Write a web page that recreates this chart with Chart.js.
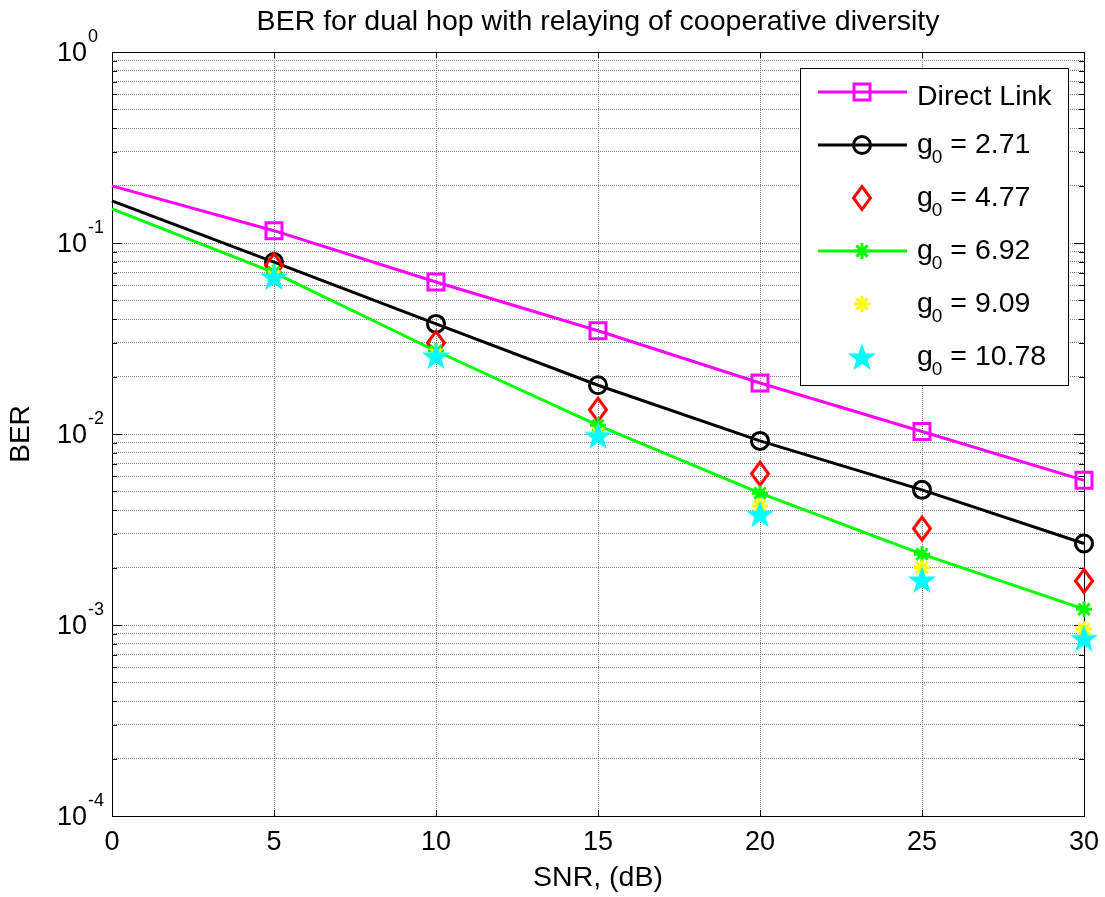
<!DOCTYPE html>
<html lang="en">
<head>
<meta charset="UTF-8">
<title>BER for dual hop with relaying of cooperative diversity</title>
<script src="https://cdn.jsdelivr.net/npm/chart.js@4.4.0/dist/chart.umd.min.js"></script>
<style>
    html, body { margin: 0; padding: 0; background: #fff; }
</style>
</head>
<body>
<canvas id="berChart" width="1105" height="897"></canvas>
<script>
// x axis: SNR in dB
const snrDb = [0, 5, 10, 15, 20, 25, 30];

// BER values
const berDirect = [0.199, 0.116, 0.0625, 0.0347, 0.0185, 0.0103, 0.00572];
const berG271  = [0.166, 0.0795, 0.0377, 0.0180, 0.0092, 0.0051, 0.00267];
const berG477  = [null, 0.0765, 0.0300, 0.0134, 0.0062, 0.0032, 0.0017];
const berG692  = [0.151, 0.0700, 0.0272, 0.0111, 0.0049, 0.00235, 0.00121];
const berG909  = [null, 0.0670, 0.0262, 0.0101, 0.0042, 0.0020, 0.00095];
const berG1078 = [null, 0.0664, 0.0256, 0.0098, 0.0038, 0.00172, 0.00085];

const gainLabels = ['2.71', '4.77', '6.92', '9.09', '10.78'];
const xTickStep = 5;
const yExponents = [0, -1, -2, -3, -4];

const FONT = "'Liberation Sans', Arial, Helvetica, sans-serif";
Chart.defaults.font.family = FONT;
Chart.defaults.color = '#000';

function toPoints(arr) {
    return snrDb.map((x, i) => ({ x: x, y: arr[i] }));
}
// markers only on the 5 dB steps, not at 0 dB
function markerRadius(r) {
    return snrDb.map(x => x === 0 ? 0 : r);
}

// MATLAB style diamond (taller than wide)
function makeDiamond(color) {
    const c = document.createElement('canvas');
    c.width = 26; c.height = 32;
    const g = c.getContext('2d');
    g.strokeStyle = color;
    g.lineWidth = 3;
    g.beginPath();
    g.moveTo(13, 4.5);
    g.lineTo(21.5, 16);
    g.lineTo(13, 27.5);
    g.lineTo(4.5, 16);
    g.closePath();
    g.stroke();
    return c;
}

// five pointed star (pentagram)
function makePentagram(color) {
    const c = document.createElement('canvas');
    c.width = 32; c.height = 32;
    const g = c.getContext('2d');
    const R = 12.5, r = 5;
    g.translate(16, 17);
    g.beginPath();
    for (let k = 0; k < 10; k++) {
        const rad = k % 2 ? r : R;
        const a = -Math.PI / 2 + k * Math.PI / 5;
        g.lineTo(Math.cos(a) * rad, Math.sin(a) * rad);
    }
    g.closePath();
    g.fillStyle = color;
    g.strokeStyle = color;
    g.lineWidth = 1.5;
    g.fill();
    g.stroke();
    return c;
}

const diamondRed = makeDiamond('#ff0000');
const starCyan = makePentagram('#00ffff');

// frame, inner tick marks and 10^n labels
const axesDecor = {
    id: 'axesDecor',
    beforeDatasetsDraw(chart) {
        const ctx = chart.ctx;
        const a = chart.chartArea;
        const xs = chart.scales.x, ys = chart.scales.y;
        ctx.save();
        ctx.strokeStyle = '#000';
        ctx.lineWidth = 1;
        ctx.beginPath();
        ys.ticks.forEach(t => {
            const py = Math.round(ys.getPixelForValue(t.value)) + 0.5;
            const major = Math.abs(Math.log10(t.value) - Math.round(Math.log10(t.value))) < 1e-6;
            const len = major ? 10 : 5;
            ctx.moveTo(a.left, py); ctx.lineTo(a.left + len, py);
            ctx.moveTo(a.right, py); ctx.lineTo(a.right - len, py);
        });
        xs.ticks.forEach(t => {
            const px = Math.round(xs.getPixelForValue(t.value)) + 0.5;
            ctx.moveTo(px, a.top); ctx.lineTo(px, a.top + 6);
            ctx.moveTo(px, a.bottom); ctx.lineTo(px, a.bottom - 6);
        });
        ctx.stroke();
        ctx.strokeRect(Math.round(a.left) + 0.5, Math.round(a.top) + 0.5,
            Math.round(a.right - a.left), Math.round(a.bottom - a.top));

        ctx.fillStyle = '#000';
        yExponents.forEach(e => {
            const py = ys.getPixelForValue(Math.pow(10, e));
            ctx.font = '27px ' + FONT;
            ctx.textAlign = 'right';
            ctx.textBaseline = 'middle';
            ctx.fillText('10', ys.right - 25, py + 2);
            ctx.font = '18px ' + FONT;
            ctx.textAlign = 'left';
            ctx.fillText(String(e), ys.right - 24, py - 15);
        });
        ctx.restore();
    }
};

// legend box with g0 subscripts
const legendBox = {
    id: 'legendBox',
    afterDatasetsDraw(chart) {
        const ctx = chart.ctx;
        const a = chart.chartArea;
        const w = 268, h = 317;
        const left = a.right - 16 - w, top = a.top + 16;
        ctx.save();
        ctx.fillStyle = '#fff';
        ctx.fillRect(left, top, w, h);
        ctx.strokeStyle = '#000';
        ctx.lineWidth = 1;
        ctx.strokeRect(Math.round(left) + 0.5, Math.round(top) + 0.5, w, h);

        chart.data.datasets.forEach((ds, i) => {
            const rowY = top + 24 + i * 53;
            const mx = left + 62;
            if (ds.showLine !== false) {
                ctx.strokeStyle = ds.borderColor;
                ctx.lineWidth = ds.borderWidth;
                ctx.beginPath();
                ctx.moveTo(left + 18, rowY);
                ctx.lineTo(left + 107, rowY);
                ctx.stroke();
            }
            ctx.strokeStyle = ds.pointBorderColor;
            ctx.fillStyle = ds.pointBackgroundColor;
            ctx.lineWidth = ds.pointBorderWidth;
            Chart.helpers.drawPoint(ctx, {
                pointStyle: ds.pointStyle,
                radius: ds.legendRadius,
                borderWidth: ds.pointBorderWidth,
                rotation: 0
            }, mx, rowY);

            const tx = left + 117;
            ctx.fillStyle = '#000';
            ctx.textAlign = 'left';
            ctx.textBaseline = 'alphabetic';
            if (i === 0) {
                ctx.font = '28.5px ' + FONT;
                ctx.fillText(ds.label, tx, rowY + 13);
            } else {
                const base = rowY + 8;
                ctx.font = '28.5px ' + FONT;
                ctx.fillText('g', tx, base);
                const wg = ctx.measureText('g').width;
                ctx.font = '19px ' + FONT;
                ctx.fillText('0', tx + wg - 1, base + 10);
                const w0 = ctx.measureText('0').width;
                ctx.font = '28.5px ' + FONT;
                ctx.fillText(' = ' + gainLabels[i - 1], tx + wg + w0 - 1, base);
            }
        });
        ctx.restore();
    }
};

const datasets = [
    {
        label: 'Direct Link',
        data: toPoints(berDirect),
        borderColor: '#ff00ff', borderWidth: 3,
        pointStyle: 'rect', pointRadius: markerRadius(11.3), legendRadius: 11.3,
        pointBorderColor: '#ff00ff', pointBorderWidth: 3,
        pointBackgroundColor: 'rgba(0,0,0,0)',
        order: 6
    },
    {
        label: 'g0 = ' + gainLabels[0],
        data: toPoints(berG271),
        borderColor: '#000000', borderWidth: 3,
        pointStyle: 'circle', pointRadius: markerRadius(8.5), legendRadius: 8.5,
        pointBorderColor: '#000000', pointBorderWidth: 3,
        pointBackgroundColor: 'rgba(0,0,0,0)',
        order: 5
    },
    {
        label: 'g0 = ' + gainLabels[1],
        data: toPoints(berG477),
        showLine: false, borderColor: '#ff0000', borderWidth: 3,
        pointStyle: diamondRed, pointRadius: markerRadius(10), legendRadius: 10,
        pointBorderColor: '#ff0000', pointBorderWidth: 3,
        pointBackgroundColor: 'rgba(0,0,0,0)',
        order: 4
    },
    {
        label: 'g0 = ' + gainLabels[2],
        data: toPoints(berG692),
        borderColor: '#00ff00', borderWidth: 3,
        pointStyle: 'star', pointRadius: markerRadius(8), legendRadius: 8,
        pointBorderColor: '#00ff00', pointBorderWidth: 3,
        pointBackgroundColor: '#00ff00',
        order: 3
    },
    {
        label: 'g0 = ' + gainLabels[3],
        data: toPoints(berG909),
        showLine: false, borderColor: '#ffff00', borderWidth: 3,
        pointStyle: 'star', pointRadius: markerRadius(8), legendRadius: 8,
        pointBorderColor: '#ffff00', pointBorderWidth: 3,
        pointBackgroundColor: '#ffff00',
        order: 2
    },
    {
        label: 'g0 = ' + gainLabels[4],
        data: toPoints(berG1078),
        showLine: false, borderColor: '#00ffff', borderWidth: 3,
        pointStyle: starCyan, pointRadius: markerRadius(10), legendRadius: 10,
        pointBorderColor: '#00ffff', pointBorderWidth: 1.5,
        pointBackgroundColor: '#00ffff',
        order: 1
    }
];
datasets.forEach(d => { d.clip = false; d.tension = 0; d.fill = false; });

new Chart(document.getElementById('berChart'), {
    type: 'line',
    data: { datasets: datasets },
    options: {
        responsive: false,
        animation: false,
        events: [],
        layout: { padding: { top: 0, right: 21, bottom: 0, left: 0 } },
        plugins: {
            legend: { display: false },
            tooltip: { enabled: false },
            title: {
                display: true,
                fullSize: false,
                text: 'BER for dual hop with relaying of cooperative diversity',
                color: '#000',
                font: { size: 28.5, weight: 'normal', family: FONT },
                padding: { top: 5, bottom: 12.8 }
            }
        },
        scales: {
            x: {
                type: 'linear',
                min: snrDb[0],
                max: snrDb[snrDb.length - 1],
                ticks: {
                    stepSize: xTickStep,
                    color: '#000',
                    font: { size: 27 },
                    padding: 10,
                    maxRotation: 0
                },
                grid: { color: '#858585', lineWidth: 1, drawTicks: false },
                border: { display: false, dash: [1, 1] },
                title: {
                    display: true,
                    text: 'SNR, (dB)',
                    color: '#000',
                    font: { size: 28.5 },
                    padding: { top: 2, bottom: 2 }
                },
                afterFit(scale) {
                    scale.height = 81;
                    scale.paddingLeft = 0;
                    scale.paddingRight = 0;
                }
            },
            y: {
                type: 'logarithmic',
                min: 1e-4,
                max: 1,
                ticks: { display: false },
                grid: { color: '#858585', lineWidth: 1, drawTicks: false },
                border: { display: false, dash: [1, 1] },
                title: {
                    display: true,
                    text: 'BER',
                    color: '#000',
                    font: { size: 28 },
                    padding: { top: 4, bottom: 4 }
                },
                afterBuildTicks(scale) {
                    const t = [];
                    for (let e = yExponents[yExponents.length - 1]; e < yExponents[0]; e++) {
                        for (let m = 1; m <= 9; m++) t.push({ value: m * Math.pow(10, e) });
                    }
                    t.push({ value: Math.pow(10, yExponents[0]) });
                    scale.ticks = t;
                },
                afterFit(scale) { scale.width = 112; }
            }
        }
    },
    plugins: [axesDecor, legendBox]
});
</script>
</body>
</html>
